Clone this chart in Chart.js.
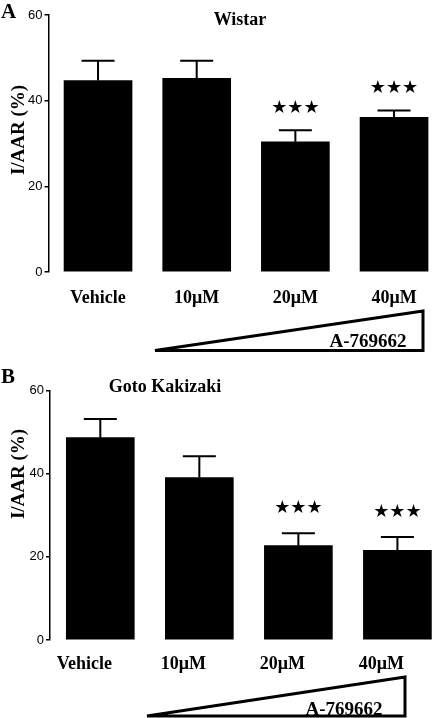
<!DOCTYPE html>
<html>
<head>
<meta charset="utf-8">
<script src="https://cdn.jsdelivr.net/npm/chart.js@4/dist/chart.umd.min.js"></script>
<style>
    html, body { margin: 0; padding: 0; background: #fff; width: 434px; height: 718px; overflow: hidden; }
    .panel { position: absolute; left: 0; width: 434px; }
    #panelA { top: 0; height: 360px; }
    #panelB { top: 360px; height: 358px; }
</style>
</head>
<body>
<div class="panel" id="panelA"><canvas id="chartA"></canvas></div>
<div class="panel" id="panelB"><canvas id="chartB"></canvas></div>
<script>
// data
const doseLabels = ["Vehicle", "10μM", "20μM", "40μM"];
const yTickValues = [0, 20, 40, 60];

const wistarMeans = [44.7, 45.2, 30.4, 36.1];
const wistarErrors = [4.6, 4.1, 2.7, 1.6];
const wistarStars = ["", "", "★★★", "★★★"];

const gkMeans = [48.7, 39.1, 22.7, 21.6];
const gkErrors = [4.5, 5.1, 3.0, 3.2];
const gkStars = ["", "", "★★★", "★★★"];

const SERIF = "'Liberation Serif', 'Times New Roman', serif";
const SANS = "'Liberation Sans', Arial, sans-serif";

const annotationPlugin = {
    id: "figureExtras",
    afterDatasetsDraw(chart) {
        const cfg = chart.options.plugins.figureExtras;
        const ctx = chart.ctx;
        const xs = chart.scales.x;
        const ys = chart.scales.y;

        ctx.save();
        ctx.strokeStyle = "#000";
        ctx.fillStyle = "#000";
        ctx.lineWidth = 2;

        cfg.means.forEach((mean, i) => {
            const x = xs.getPixelForValue(i);
            const yBar = ys.getPixelForValue(mean);
            const yTop = ys.getPixelForValue(mean + cfg.errors[i]);

            ctx.beginPath();
            ctx.moveTo(x, yBar);
            ctx.lineTo(x, yTop);
            ctx.moveTo(x - 16.5, yTop);
            ctx.lineTo(x + 16.5, yTop);
            ctx.stroke();

            if (cfg.stars[i]) {
                ctx.font = "18px 'DejaVu Sans'";
                ctx.textAlign = "center";
                ctx.textBaseline = "middle";
                ctx.fillText(cfg.stars[i], x, yTop - cfg.starGap);
            }
        });
        ctx.restore();
    },
    afterDraw(chart) {
        const cfg = chart.options.plugins.figureExtras;
        const ctx = chart.ctx;

        ctx.save();
        ctx.fillStyle = "#000";
        ctx.strokeStyle = "#000";

        // panel letter
        ctx.font = `bold 21px ${SERIF}`;
        ctx.textAlign = "left";
        ctx.textBaseline = "alphabetic";
        ctx.fillText(cfg.letter, 1, cfg.letterY);

        // title
        ctx.font = `bold 18px ${SERIF}`;
        ctx.textAlign = "center";
        ctx.textBaseline = "middle";
        ctx.fillText(cfg.title, cfg.titleX, cfg.titleY);

        // y axis title
        ctx.save();
        ctx.translate(19, cfg.yTitleY);
        ctx.rotate(-Math.PI / 2);
        ctx.font = `bold 19px ${SERIF}`;
        ctx.fillText("I/AAR (%)", 0, 0);
        ctx.restore();

        // dose wedge
        const t = cfg.wedge;
        ctx.font = `bold 19px ${SERIF}`;
        ctx.textAlign = "center";
        ctx.textBaseline = "alphabetic";
        ctx.fillText("A-769662", t.textX, t.textY);

        ctx.lineWidth = 3;
        ctx.lineJoin = "miter";
        ctx.beginPath();
        ctx.moveTo(t.left, t.bottom);
        ctx.lineTo(t.right, t.top);
        ctx.lineTo(t.right, t.bottom);
        ctx.closePath();
        ctx.stroke();

        ctx.restore();
    }
};

function createPanel(canvasId, means, errors, stars, layout) {
    const canvas = document.getElementById(canvasId);

    new Chart(canvas, {
        type: "bar",
        data: {
            datasets: [
                {
                    data: means.map((v, i) => ({ x: i, y: v })),
                    backgroundColor: "#000",
                    borderWidth: 0,
                    barThickness: 68
                }
            ]
        },
        options: {
            responsive: true,
            maintainAspectRatio: false,
            animation: false,
            layout: {
                padding: { top: layout.padTop, right: 0, bottom: layout.padBottom, left: 0 }
            },
            plugins: {
                legend: { display: false },
                tooltip: { enabled: false },
                figureExtras: {
                    means: means,
                    errors: errors,
                    stars: stars,
                    starGap: layout.starGap,
                    letter: layout.letter,
                    letterY: layout.letterY,
                    title: layout.title,
                    titleX: layout.titleX,
                    titleY: layout.titleY,
                    yTitleY: layout.yTitleY,
                    wedge: layout.wedge
                }
            },
            scales: {
                x: {
                    type: "linear",
                    bounds: "data",
                    offset: false,
                    min: layout.xMin,
                    max: layout.xMax,
                    afterBuildTicks: s => { s.ticks = doseLabels.map((_, i) => ({ value: i })); },
                    afterFit: s => { s.height = layout.xHeight; },
                    ticks: {
                        callback: (value, index) => doseLabels[index],
                        color: "#000",
                        font: { family: SERIF, size: 18, weight: "bold" },
                        padding: layout.xPad,
                        labelOffset: layout.labelOffset,
                        maxRotation: 0,
                        autoSkip: false
                    },
                    grid: { display: false, drawTicks: false, offset: false },
                    border: { display: false }
                },
                y: {
                    min: 0,
                    max: 60,
                    afterBuildTicks: s => { s.ticks = yTickValues.map(v => ({ value: v })); },
                    afterFit: s => { s.width = layout.yWidth; },
                    ticks: {
                        color: "#000",
                        font: { family: SANS, size: 13 },
                        padding: 2
                    },
                    grid: {
                        drawOnChartArea: false,
                        drawTicks: true,
                        tickLength: 4,
                        color: "#000",
                        lineWidth: 1.5
                    },
                    border: { color: "#000", width: 1.5 }
                }
            }
        },
        plugins: [annotationPlugin]
    });
}

createPanel("chartA", wistarMeans, wistarErrors, wistarStars, {
    padTop: 15, padBottom: 48, xHeight: 40, xPad: 16, labelOffset: 0,
    xMin: -0.502, xMax: 3.405, yWidth: 48.5, starGap: 22,
    letter: "A", letterY: 18,
    title: "Wistar", titleX: 240, titleY: 20,
    yTitleY: 130,
    wedge: { left: 155, right: 423, top: 311, bottom: 350.5, textX: 368, textY: 347 }
});

createPanel("chartB", gkMeans, gkErrors, gkStars, {
    padTop: 30.7, padBottom: 38, xHeight: 40, xPad: 14, labelOffset: -16,
    xMin: -0.508, xMax: 3.351, yWidth: 50, starGap: 25,
    letter: "B", letterY: 23,
    title: "Goto Kakizaki", titleX: 165, titleY: 27,
    yTitleY: 114,
    wedge: { left: 147, right: 405, top: 317, bottom: 356, textX: 344, textY: 355 }
});
</script>
</body>
</html>
